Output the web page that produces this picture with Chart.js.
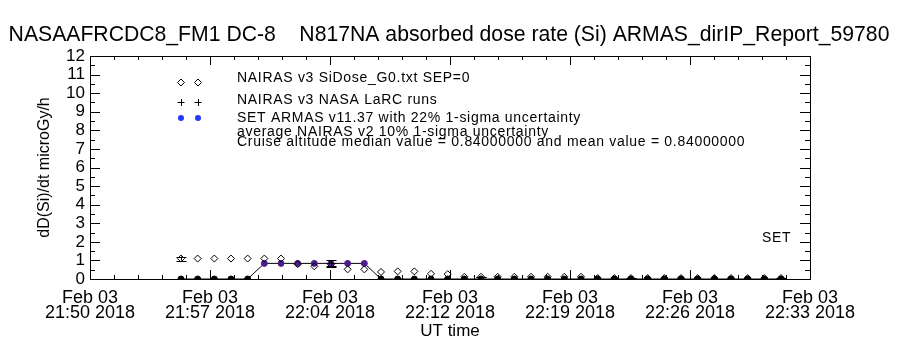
<!DOCTYPE html>
<html>
<head>
<meta charset="utf-8">
<script src="https://cdn.jsdelivr.net/npm/chart.js@4.4.1/dist/chart.umd.min.js"></script>
<style>
  body { margin: 0; background: #fff; }
  canvas { display: block; }
</style>
</head>
<body>
<canvas id="doseChart" width="900" height="350"></canvas>
<script>
// sample times (UT, Feb 03 2018), one per minute
var times = ['21:56','21:57','21:58','21:59','22:00','22:01','22:02','22:03','22:04','22:05',
             '22:06','22:07','22:08','22:09','22:10','22:11','22:12','22:13','22:14','22:15',
             '22:16','22:17','22:18','22:19','22:20','22:21','22:22','22:23','22:24','22:25',
             '22:26','22:27','22:28','22:29','22:30','22:31','22:32'];
// NAIRAS v3 SiDose_G0.txt SEP=0 (diamonds)
var nairas = [1.1, 1.1, 1.1, 1.1, 1.1, 1.1, 1.1, 0.8, 0.68, 0.78,
              0.52, 0.52, 0.38, 0.41, 0.41, 0.28, 0.26, 0.12, 0.12, 0.12,
              0.12, 0.12, 0.12, 0.12, 0.12, 0.05, 0.05, 0.05, 0.05, 0.05,
              0.05, 0.05, 0.05, 0.05, 0.05, 0.05, 0.05];
// SET ARMAS v11.37
var armas = [0, 0, 0, 0, 0, 0.84, 0.84, 0.84, 0.84, 0.84,
             0.84, 0.84, 0, 0, 0, 0, 0, 0, 0, 0,
             0, 0, 0, 0, 0, 0, 0, 0, 0, 0,
             0, 0, 0, 0, 0, 0, 0];
var errIdx = [0, 9, 18, 27, 36];     // points carrying 1-sigma bars
var nairasErr = 0.10;
var armasErr = 0.22;

var xTickLabels = [['Feb 03', '21:50 2018'], ['Feb 03', '21:57 2018'], ['Feb 03', '22:04 2018'],
                   ['Feb 03', '22:12 2018'], ['Feb 03', '22:19 2018'], ['Feb 03', '22:26 2018'],
                   ['Feb 03', '22:33 2018']];
var xMin = 0.54, xMax = 43.74;       // minutes after 21:50
var yMin = 0, yMax = 12;
var title = 'NASAAFRCDC8_FM1 DC-8    N817NA absorbed dose rate (Si) ARMAS_dirIP_Report_59780';

var FONT = "'Liberation Sans', Arial, sans-serif";
var PURPLE = '#4e1c8c';
var BLUE = '#1f3cff';

function toMin(t) {
    var p = t.split(':');
    return (+p[0]) * 60 + (+p[1]) - (21 * 60 + 50);
}

var xTickPos = [];
for (var k = 0; k < xTickLabels.length; k++) {
    xTickPos.push(xMin + k * (xMax - xMin) / (xTickLabels.length - 1));
}

var nairasPts = [], armasPts = [];
for (var i = 0; i < times.length; i++) {
    nairasPts.push({x: toMin(times[i]), y: nairas[i]});
    armasPts.push({x: toMin(times[i]), y: armas[i]});
}

var frame = {
    id: 'frame',
    afterDatasetsDraw: function(chart) {
        var ctx = chart.ctx, a = chart.chartArea;
        var xs = chart.scales.x, ys = chart.scales.y;
        ctx.save();
        ctx.strokeStyle = '#000';
        ctx.fillStyle = '#000';
        ctx.lineWidth = 1;
        ctx.strokeRect(Math.round(a.left) + 0.5, Math.round(a.top) + 0.5,
                       Math.round(a.right - a.left), Math.round(a.bottom - a.top));

        ctx.beginPath();
        // y ticks, both sides, pointing in
        for (var v = yMin; v <= yMax; v += 0.5) {
            var py = Math.round(ys.getPixelForValue(v)) + 0.5;
            var len = (v % 1 === 0) ? 10 : 5;
            ctx.moveTo(a.left, py); ctx.lineTo(a.left + len, py);
            ctx.moveTo(a.right, py); ctx.lineTo(a.right - len, py);
        }
        // x ticks, top and bottom
        var step = (xMax - xMin) / (xTickLabels.length - 1);
        for (var j = 0; j <= (xTickLabels.length - 1) * 5; j++) {
            var px = Math.round(xs.getPixelForValue(xMin + j * step / 5)) + 0.5;
            var l = (j % 5 === 0) ? 9 : 4;
            ctx.moveTo(px, a.bottom); ctx.lineTo(px, a.bottom - l);
            ctx.moveTo(px, a.top); ctx.lineTo(px, a.top + l);
        }
        ctx.stroke();

        // error bars
        ctx.beginPath();
        errIdx.forEach(function(n) {
            var ex = Math.round(xs.getPixelForValue(toMin(times[n]))) + 0.5;
            [[nairas[n], nairasErr], [armas[n], armasErr]].forEach(function(p) {
                if (p[0] <= 0) return;
                var lo = ys.getPixelForValue(p[0] * (1 - p[1]));
                var hi = ys.getPixelForValue(p[0] * (1 + p[1]));
                ctx.moveTo(ex, lo); ctx.lineTo(ex, hi);
                ctx.moveTo(ex - 5, Math.round(lo) + 0.5); ctx.lineTo(ex + 5, Math.round(lo) + 0.5);
                ctx.moveTo(ex - 5, Math.round(hi) + 0.5); ctx.lineTo(ex + 5, Math.round(hi) + 0.5);
            });
        });
        ctx.stroke();

        // legend symbols
        [181, 198].forEach(function(lx) {
            ctx.beginPath();
            ctx.moveTo(lx, 79); ctx.lineTo(lx + 3.5, 82.5); ctx.lineTo(lx, 86); ctx.lineTo(lx - 3.5, 82.5);
            ctx.closePath();
            ctx.stroke();
            ctx.beginPath();
            ctx.moveTo(lx - 3.5, 102.5); ctx.lineTo(lx + 3.5, 102.5);
            ctx.moveTo(lx + 0.5, 99); ctx.lineTo(lx + 0.5, 106);
            ctx.stroke();
            ctx.beginPath();
            ctx.fillStyle = BLUE;
            ctx.arc(lx, 118, 3, 0, Math.PI * 2);
            ctx.fill();
        });

        ctx.fillStyle = '#000';
        ctx.textBaseline = 'middle';

        // title across the full canvas width
        ctx.textAlign = 'center';
        ctx.font = '21.2px ' + FONT;
        ctx.fillText(title, 449, 35);

        // legend text
        ctx.textAlign = 'left';
        ctx.font = '14px ' + FONT;
        ctx.letterSpacing = '0.7px';
        ctx.fillText('NAIRAS v3 SiDose_G0.txt SEP=0', 237, 78);
        ctx.fillText('NAIRAS v3 NASA LaRC runs', 237, 100);
        ctx.fillText('SET ARMAS v11.37 with 22% 1-sigma uncertainty', 237, 118);
        ctx.fillText('average NAIRAS v2 10% 1-sigma uncertainty', 237, 132);
        ctx.fillText('Cruise altitude median value = 0.84000000 and mean value = 0.84000000', 237, 142);
        ctx.fillText('SET', 762, 238);
        ctx.restore();
    }
};

new Chart(document.getElementById('doseChart').getContext('2d'), {
    type: 'scatter',
    data: {
        datasets: [
            {
                label: 'NAIRAS v3 SiDose_G0.txt SEP=0',
                data: nairasPts,
                pointStyle: 'rectRot',
                pointRadius: 3.5,
                borderColor: '#000',
                backgroundColor: 'rgba(0,0,0,0)',
                borderWidth: 1,
                showLine: false,
                clip: 0,
                order: 1
            },
            {
                label: 'SET ARMAS v11.37',
                data: armasPts,
                showLine: true,
                borderColor: '#000',
                borderWidth: 1,
                pointRadius: 3,
                pointBackgroundColor: function(c) { return c.raw && c.raw.y > 0 ? PURPLE : '#000'; },
                pointBorderColor: function(c) { return c.raw && c.raw.y > 0 ? PURPLE : '#000'; },
                clip: 0,
                order: 2
            }
        ]
    },
    options: {
        responsive: false,
        animation: false,
        layout: { padding: { top: 56, right: 90 } },
        plugins: {
            legend: { display: false },
            tooltip: { enabled: false },
            title: { display: false }
        },
        scales: {
            x: {
                type: 'linear',
                min: xMin,
                max: xMax,
                afterBuildTicks: function(s) {
                    s.ticks = xTickPos.map(function(v) { return {value: v}; });
                },
                afterFit: function(s) { s.height = 71; },
                ticks: {
                    callback: function(v, idx) { return xTickLabels[idx]; },
                    color: '#000',
                    font: { family: FONT, size: 18, lineHeight: 0.85 },
                    padding: 11,
                    maxRotation: 0,
                    autoSkip: false
                },
                grid: { display: false, drawTicks: false },
                border: { display: false },
                title: {
                    display: true,
                    text: 'UT time',
                    color: '#000',
                    font: { family: FONT, size: 17, lineHeight: 1.2 },
                    padding: { top: 0, bottom: 8 }
                }
            },
            y: {
                min: yMin,
                max: yMax,
                afterFit: function(s) { s.width = 90; },
                ticks: {
                    stepSize: 1,
                    autoSkip: false,
                    color: '#000',
                    font: { family: FONT, size: 17, lineHeight: 1 },
                    padding: 5
                },
                grid: { display: false, drawTicks: false },
                border: { display: false },
                title: {
                    display: true,
                    text: 'dD(Si)/dt microGy/h',
                    color: '#000',
                    font: { family: FONT, size: 16, lineHeight: 1.2 },
                    padding: { top: 35, bottom: 0 }
                }
            }
        }
    },
    plugins: [frame]
});
</script>
</body>
</html>
